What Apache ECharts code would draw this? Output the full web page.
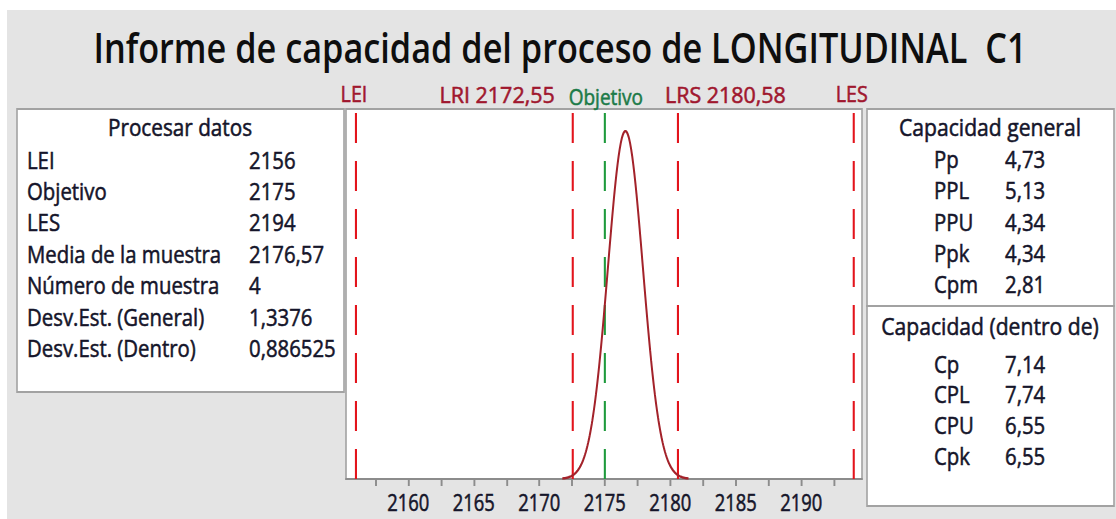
<!DOCTYPE html>
<html>
<head>
<meta charset="utf-8">
<script src="https://cdn.jsdelivr.net/npm/echarts@6/dist/echarts.min.js"></script>
<style>
  html, body { margin: 0; padding: 0; background: #ffffff; width: 1116px; height: 519px; overflow: hidden; }
  #panel { position: absolute; left: 7px; top: 10px; right: 0; bottom: 0; background: #e4e4e4; }
  #chart { position: absolute; left: 0; top: 0; height: 519px; transform-origin: 0 0; }
</style>
</head>
<body>
<div id="panel"></div>
<div id="chart"></div>
<script>
// ---- report data -------------------------------------------------------
const TITLE = 'Informe de capacidad del proceso de LONGITUDINAL  C1';

// Spec / reference lines shown on the histogram panel
const limitNames  = ['LEI', 'LRI', 'Objetivo', 'LRS', 'LES'];
const limitValues = [2156, 2172.55, 2175, 2180.58, 2194];

// Process data
const processLabels = ['LEI', 'Objetivo', 'LES', 'Media de la muestra', 'Número de muestra',
                       'Desv.Est. (General)', 'Desv.Est. (Dentro)'];
const processValues = [2156, 2175, 2194, 2176.57, 4, 1.3376, 0.886525];

// Overall capability
const overallLabels = ['Pp', 'PPL', 'PPU', 'Ppk', 'Cpm'];
const overallValues = [4.73, 5.13, 4.34, 4.34, 2.81];

// Potential (within) capability
const withinLabels = ['Cp', 'CPL', 'CPU', 'Cpk'];
const withinValues = [7.14, 7.74, 6.55, 6.55];

// X axis ticks
const tickValues  = [2157.5, 2160, 2162.5, 2165, 2167.5, 2170, 2172.5, 2175, 2177.5,
                     2180, 2182.5, 2185, 2187.5, 2190, 2192.5];
const labelValues = [2160, 2165, 2170, 2175, 2180, 2185, 2190];

// Fitted normal curve: sample mean and overall standard deviation
const MEAN = processValues[3];
const SD_OVERALL = processValues[5];

// ---- layout --------------------------------------------------------------
const SX = 0.8;                       // the report is drawn horizontally condensed
const W = Math.round(1116 / SX);
const X = v => v / SX;                // screen x -> chart x
const FONT = '"Open Sans", "Noto Sans", sans-serif';
const RED = '#e3141c', GREEN = '#1e9a3c', CURVE = '#a3222a';
const LABEL_RED = '#a0172e', LABEL_GREEN = '#1c7a48', INK = '#15152a', FRAME = '#a2a2a2';
const X_MIN = 2155.24, X_MAX = 2194.63, Y_MAX = 0.3172;

const el = document.getElementById('chart');
el.style.width = W + 'px';
el.style.transform = 'scaleX(' + SX + ')';

function normalPdf(x, m, s) {
  const z = (x - m) / s;
  return Math.exp(-0.5 * z * z) / (s * Math.sqrt(2 * Math.PI));
}
const curve = [];
for (let i = 0; i <= 240; i++) {
  const x = MEAN - 3.6 * SD_OVERALL + i * (7.2 * SD_OVERALL / 240);
  curve.push([x, normalPdf(x, MEAN, SD_OVERALL)]);
}

const fmt = (v, d) => (d == null ? String(v) : v.toFixed(d)).replace('.', ',');

// text with a thin outline of its own colour for a slightly heavier stroke
function text(id, x, y, str, size, color, align, sx, weight, thick) {
  return {
    type: 'text', id: id, x: X(x), y: y, z: 20, scaleX: sx || 1,
    style: { text: str, fontFamily: FONT, fontSize: size, fontWeight: weight || 400, fill: color,
             stroke: color, lineWidth: thick == null ? 0.55 : thick,
             align: align || 'left', verticalAlign: 'middle' }
  };
}

const graphics = [];
// boxes
graphics.push({ type: 'rect', id: 'boxL', z: 5,
  shape: { x: X(17), y: 109, width: X(344) - X(17), height: 392 - 109 },
  style: { fill: '#fff', stroke: FRAME, lineWidth: 2 } });
graphics.push({ type: 'rect', id: 'boxR1', z: 5,
  shape: { x: X(867), y: 109, width: X(1114) - X(867), height: 306 - 109 },
  style: { fill: '#fff', stroke: FRAME, lineWidth: 2 } });
graphics.push({ type: 'rect', id: 'boxR2', z: 5,
  shape: { x: X(867), y: 306, width: X(1114) - X(867), height: 506 - 306 },
  style: { fill: '#fff', stroke: FRAME, lineWidth: 2 } });

// title
graphics.push(text('title', 560, 47, TITLE, 42, '#0e0e0e', 'center', 1.02, 600, 0));

// process data table
const T = 24, TS = 1.06, HS = 1.08;
graphics.push(text('pdHead', 180, 127, 'Procesar datos', T, INK, 'center', HS));
processLabels.forEach((lab, i) => {
  graphics.push(text('pdL' + i, 27, 159.5 + i * 31.4, lab, T, INK, 'left', TS));
  graphics.push(text('pdV' + i, 249, 159.5 + i * 31.4, fmt(processValues[i]), T, INK, 'left', TS));
});

// overall capability
graphics.push(text('ovHead', 990, 127, 'Capacidad general', T, INK, 'center', 1.1));
overallLabels.forEach((lab, i) => {
  graphics.push(text('ovL' + i, 934, 159 + i * 31.25, lab, T, INK, 'left', TS));
  graphics.push(text('ovV' + i, 1005, 159 + i * 31.25, fmt(overallValues[i], 2), T, INK, 'left', TS));
});

// within capability
graphics.push(text('wiHead', 990, 325.5, 'Capacidad (dentro de)', T, INK, 'center', 1.1));
withinLabels.forEach((lab, i) => {
  graphics.push(text('wiL' + i, 934, 363.5 + i * 30.8, lab, T, INK, 'left', TS));
  graphics.push(text('wiV' + i, 1005, 363.5 + i * 30.8, fmt(withinValues[i], 2), T, INK, 'left', TS));
});

// reference lines drawn as two-point vertical series
const limitSeries = limitNames.map((name, i) => ({
  type: 'line', name: name, silent: true, symbol: 'none', animation: false,
  data: [[limitValues[i], Y_MAX], [limitValues[i], 0]],
  lineStyle: { color: name === 'Objetivo' ? GREEN : RED, width: 2.6, type: [30, 18], dashOffset: 44 },
  z: 3
}));

const chart = echarts.init(el, null, { renderer: 'svg', width: W, height: 519 });
chart.setOption({
  backgroundColor: 'transparent',
  animation: false,
  grid: {
    left: X(346), right: W - X(862), top: 109, bottom: 519 - 479,
    show: true, backgroundColor: '#ffffff', borderColor: FRAME, borderWidth: 2,
    outerBoundsMode: 'none', containLabel: false
  },
  xAxis: {
    type: 'value', min: X_MIN, max: X_MAX,
    axisLine: { show: true, onZero: false, lineStyle: { color: '#8c8c8c', width: 2 } },
    axisTick: { show: true, inside: false, length: 7, customValues: tickValues,
                lineStyle: { color: '#8c8c8c', width: 2.4 } },
    axisLabel: { customValues: labelValues, fontFamily: FONT, fontSize: 23,
                 color: INK, textBorderColor: INK, textBorderWidth: 0.55,
                 margin: 12, formatter: v => String(v) },
    splitLine: { show: false }
  },
  yAxis: { type: 'value', min: 0, max: Y_MAX, show: false, splitLine: { show: false } },
  series: limitSeries.concat([{
    type: 'line', name: 'Normal', silent: true, symbol: 'none', smooth: false,
    data: curve, lineStyle: { color: CURVE, width: 2.5 }, z: 4
  }]),
  graphic: graphics
});

// labels above the plot, placed at the reference line positions on the axis
const px = v => chart.convertToPixel({ xAxisIndex: 0 }, v) * SX;  // chart x -> screen x
const lims = {};
limitNames.forEach((n, i) => { lims[n] = px(limitValues[i]); });
chart.setOption({
  graphic: [
    text('tLEI', lims['LEI'] - 2, 94, 'LEI', 22, LABEL_RED, 'center', 1.12),
    text('tLRI', lims['LRI'] - 18, 94, 'LRI ' + fmt(limitValues[1]), 22, LABEL_RED, 'right', 1.22),
    text('tObj', lims['Objetivo'] + 1, 96.5, 'Objetivo', 22, LABEL_GREEN, 'center', 1.08),
    text('tLRS', lims['LRS'] - 13, 94, 'LRS ' + fmt(limitValues[3]), 22, LABEL_RED, 'left', 1.22),
    text('tLES', lims['LES'] - 2, 94, 'LES', 22, LABEL_RED, 'center', 1.12)
  ]
});
</script>
</body>
</html>
